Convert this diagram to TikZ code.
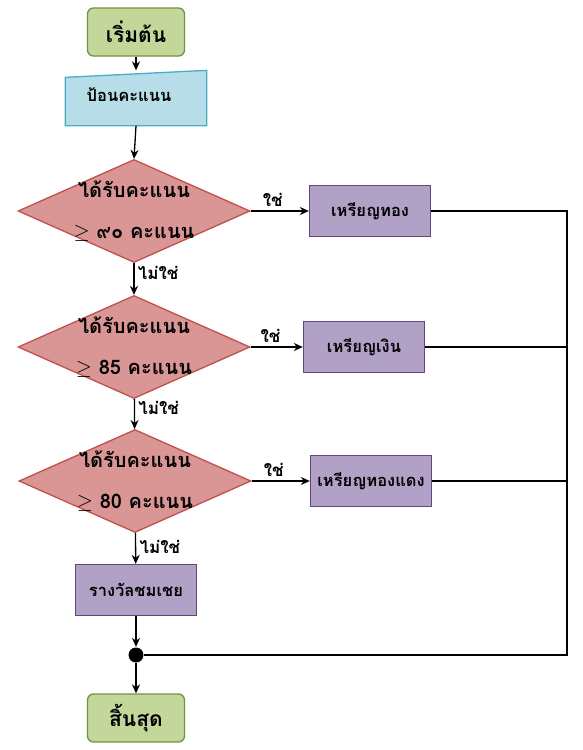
\documentclass[tikz,border=0pt]{standalone}
\usepackage{fontspec}
\newfontfamily\thaifont[Script=Thai]{Loma}
\usetikzlibrary{shapes.geometric,arrows.meta}

\definecolor{startfill}{RGB}{196,215,155}
\definecolor{startline}{RGB}{118,146,60}
\definecolor{inputfill}{RGB}{183,222,232}
\definecolor{inputline}{RGB}{75,172,198}
\definecolor{askfill}{RGB}{217,150,148}
\definecolor{askline}{RGB}{192,80,77}
\definecolor{prizefill}{RGB}{178,161,199}
\definecolor{prizeline}{RGB}{96,73,122}

\begin{document}
\begin{tikzpicture}[x=1pt, y=-1pt, line width=1.3pt, >={Stealth[length=9pt,width=8pt]},
  every node/.style={font=\thaifont\bfseries\fontsize{16.5}{20}\selectfont},
  terminal/.style={draw=startline, fill=startfill, rounded corners=6pt, minimum width=97pt, minimum height=48pt, font=\thaifont\bfseries\fontsize{21}{24}\selectfont},
  inshape/.style={minimum width=140pt, minimum height=54pt, inner sep=0pt},
  ask/.style={diamond, draw=askline, fill=askfill, aspect=2.3, inner sep=0pt, minimum width=232pt, minimum height=103pt},
  asktext/.style={align=center, font=\thaifont\bfseries\fontsize{20}{24}\selectfont},
  prize/.style={draw=prizeline, fill=prizefill, minimum width=121pt, minimum height=51pt},
  answer/.style={font=\thaifont\bfseries\fontsize{17}{20}\selectfont},
  joint/.style={circle, fill=black, inner sep=0pt, minimum size=15pt}]

\useasboundingbox (0,0) rectangle (583,750);

% Start and input
\node[terminal] (start) at (136,32) {เริ่มต้น};
\node[inshape] (input) at (136,98) {};
\draw[draw=inputline, fill=inputfill] (input.south west) -- (input.south east) -- (input.north east) -- ([yshift=-7pt]input.north west) -- cycle;
\node at ([xshift=-7pt, yshift=3pt]input.center) {ป้อนคะแนน};

% Questions
\node[ask, label={[asktext]center:ได้รับคะแนน\\[17pt]$\geq$ ๙๐ คะแนน}] (ask1) at (134,211) {};
\node[ask, label={[asktext]center:ได้รับคะแนน\\[17pt]$\geq$ 85 คะแนน}] (ask2) at (134,347) {};
\node[ask, label={[asktext]center:ได้รับคะแนน\\[17pt]$\geq$ 80 คะแนน}] (ask3) at (135,481) {};

% Prizes
\node[prize] (gold) at (370,211) {เหรียญทอง};
\node[prize] (silver) at (364,347) {เหรียญเงิน};
\node[prize] (bronze) at (371,481) {เหรียญทองแดง};
\node[prize] (cheer) at (136,590) {รางวัลชมเชย};

% Join and end
\node[joint] (join) at (136,655) {};
\node[terminal] (stop) at (136,718) {สิ้นสุด};
\coordinate (rail) at (567,655);

% Connectors
\draw[->] (start) -- (input);
\draw[->] (input.south) -- (ask1.north);
\draw[->] (ask1) -- node[answer, pos=0.38, above] {ใช่} (gold);
\draw[->] (ask2) -- node[answer, pos=0.38, above] {ใช่} (silver);
\draw[->] (ask3) -- node[answer, pos=0.38, above] {ใช่} (bronze);
\draw[->] (ask1) -- node[answer, pos=0.3, right] {ไม่ใช่} (ask2);
\draw[->] (ask2) -- node[answer, pos=0.3, right] {ไม่ใช่} (ask3);
\draw[->] (ask3) -- node[answer, pos=0.45, right] {ไม่ใช่} (cheer);
\draw[->] (cheer) -- (join);
\draw[->] (join) -- (stop);
\draw (gold.east) -| (rail) -- (join);
\draw (silver.east) -- (silver.east -| rail);
\draw (bronze.east) -- (bronze.east -| rail);

\end{tikzpicture}
\end{document}
